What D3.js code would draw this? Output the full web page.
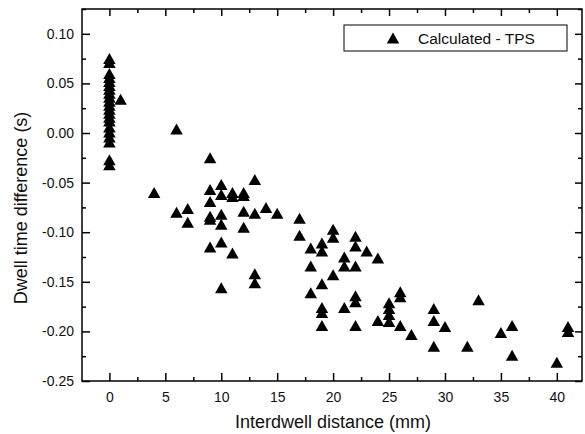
<!DOCTYPE html>
<html>
<head>
<meta charset="utf-8">
<script src="https://d3js.org/d3.v7.min.js"></script>
<style>
  body { margin: 0; background: #fff; }
  text { font-family: Arial, "Liberation Sans", sans-serif; fill: #111; }
</style>
</head>
<body>
<div id="chart"></div>
<script>
// Interdwell distance (mm) and matching dwell time difference (s)
var distance = [
  0, 0, 0, 0, 0, 0, 0, 0, 0, 0, 0, 0, 0, 0, 0, 0, 0, 0, 0, 0, 0,
  1, 4, 6, 6, 7, 7,
  9, 9, 9, 9, 9, 9,
  10, 10, 10, 10, 10, 10,
  11, 11, 11, 12, 12, 12, 12,
  13, 13, 13, 13, 14, 15, 17, 17,
  18, 18, 18, 19, 19, 19, 19, 19, 19,
  20, 20, 20, 21, 21, 21,
  22, 22, 22, 22, 22, 22, 23, 24, 24,
  25, 25, 25, 25, 26, 26, 26, 27,
  29, 29, 29, 30, 32, 33, 35, 36, 36, 40, 41, 41
];
var dwellDiff = [
  0.075, 0.071, 0.060, 0.056, 0.052, 0.048, 0.044, 0.040, 0.036, 0.032, 0.028,
  0.024, 0.020, 0.016, 0.012, 0.006, 0.001, -0.004, -0.009, -0.027, -0.032,
  0.034, -0.060, 0.004, -0.080, -0.076, -0.090,
  -0.025, -0.057, -0.069, -0.084, -0.087, -0.115,
  -0.052, -0.062, -0.082, -0.092, -0.110, -0.156,
  -0.060, -0.064, -0.121, -0.060, -0.063, -0.079, -0.095,
  -0.047, -0.081, -0.142, -0.151, -0.075, -0.081, -0.086, -0.103,
  -0.116, -0.134, -0.161, -0.111, -0.119, -0.152, -0.176, -0.181, -0.194,
  -0.097, -0.105, -0.143, -0.125, -0.134, -0.176,
  -0.104, -0.114, -0.134, -0.164, -0.170, -0.194, -0.119, -0.126, -0.189,
  -0.171, -0.177, -0.183, -0.190, -0.160, -0.165, -0.194, -0.203,
  -0.177, -0.189, -0.215, -0.195, -0.215, -0.168, -0.201, -0.194, -0.224, -0.231, -0.195, -0.200
];
var xTicks = [0, 5, 10, 15, 20, 25, 30, 35, 40];
var xMinor = [2.5, 7.5, 12.5, 17.5, 22.5, 27.5, 32.5, 37.5];
var yTicks = [-0.25, -0.20, -0.15, -0.10, -0.05, 0.00, 0.05, 0.10];
var yMinor = [-0.225, -0.175, -0.125, -0.075, -0.025, 0.025, 0.075, 0.125];
var seriesName = "Calculated - TPS";

var margin = { top: 9, right: 3, bottom: 53, left: 82 },
  width = 585 - margin.left - margin.right,
  height = 434 - margin.top - margin.bottom;

var data = distance.map(function(d, i) {
  return { x: d, y: dwellDiff[i] };
});

var svg = d3.select("#chart")
  .append("svg")
  .attr("width", 585)
  .attr("height", 434)
  .append("g")
  .attr("transform", "translate(" + margin.left + "," + margin.top + ")");

var x = d3.scaleLinear().domain([-2.45, 42.25]).range([0, width]);
var y = d3.scaleLinear().domain([-0.25, 0.125]).range([height, 0]);

// ticks all point inward, mirrored on top and right
function styleAxis(g) {
  g.select(".domain").remove();
  g.selectAll(".tick line").attr("stroke", "#000").attr("stroke-width", 1.5);
  g.selectAll(".tick text").style("font-size", "14px").attr("fill", "#111");
}

svg.append("g")
  .attr("transform", "translate(0," + height + ")")
  .call(d3.axisBottom(x).tickValues(xTicks).tickSizeInner(-8).tickSizeOuter(0).tickPadding(11))
  .call(styleAxis);
svg.append("g")
  .attr("transform", "translate(0," + height + ")")
  .call(d3.axisBottom(x).tickValues(xMinor).tickSize(-4).tickFormat(""))
  .call(styleAxis);
svg.append("g")
  .call(d3.axisTop(x).tickValues(xTicks).tickSize(-7).tickFormat(""))
  .call(styleAxis);
svg.append("g")
  .call(d3.axisTop(x).tickValues(xMinor).tickSize(-4).tickFormat(""))
  .call(styleAxis);

svg.append("g")
  .call(d3.axisLeft(y).tickValues(yTicks).tickSizeInner(-8).tickSizeOuter(0).tickPadding(8)
    .tickFormat(function(d) { return d.toFixed(2); }))
  .call(styleAxis);
svg.append("g")
  .call(d3.axisLeft(y).tickValues(yMinor).tickSize(-4).tickFormat(""))
  .call(styleAxis);
svg.append("g")
  .attr("transform", "translate(" + width + ",0)")
  .call(d3.axisRight(y).tickValues(yTicks).tickSize(-7).tickFormat(""))
  .call(styleAxis);
svg.append("g")
  .attr("transform", "translate(" + width + ",0)")
  .call(d3.axisRight(y).tickValues(yMinor).tickSize(-4).tickFormat(""))
  .call(styleAxis);

// frame
svg.append("rect")
  .attr("width", width)
  .attr("height", height)
  .attr("fill", "none")
  .attr("stroke", "#000")
  .attr("stroke-width", 1.5);

// triangle marker centred on its bounding box (like Origin)
var triW = 12.5, triH = 11;
var tri = "M0," + (-triH / 2) + "L" + (triW / 2) + "," + (triH / 2) + "L" + (-triW / 2) + "," + (triH / 2) + "Z";

svg.append("g")
  .selectAll("path")
  .data(data)
  .enter()
  .append("path")
  .attr("d", tri)
  .attr("transform", function(d) {
    return "translate(" + x(d.x) + "," + y(d.y) + ")";
  })
  .attr("fill", "#000");

// axis titles
svg.append("text")
  .attr("text-anchor", "middle")
  .attr("x", width / 2 + 1)
  .attr("y", height + 47)
  .style("font-size", "18px")
  .text("Interdwell distance (mm)");

svg.append("text")
  .attr("text-anchor", "middle")
  .attr("transform", "translate(" + (27 - margin.left) + "," + (208 - margin.top) + ") rotate(-90)")
  .style("font-size", "18px")
  .text("Dwell time difference (s)");

// legend
var legend = svg.append("g")
  .attr("transform", "translate(" + (344 - margin.left) + "," + (25 - margin.top) + ")");
legend.append("rect")
  .attr("width", 223)
  .attr("height", 26)
  .attr("fill", "#fff")
  .attr("stroke", "#000")
  .attr("stroke-width", 1);
legend.append("path")
  .attr("d", tri)
  .attr("transform", "translate(49,13)")
  .attr("fill", "#000");
legend.append("text")
  .attr("x", 74)
  .attr("y", 19)
  .style("font-size", "15.5px")
  .text(seriesName);
</script>
</body>
</html>
